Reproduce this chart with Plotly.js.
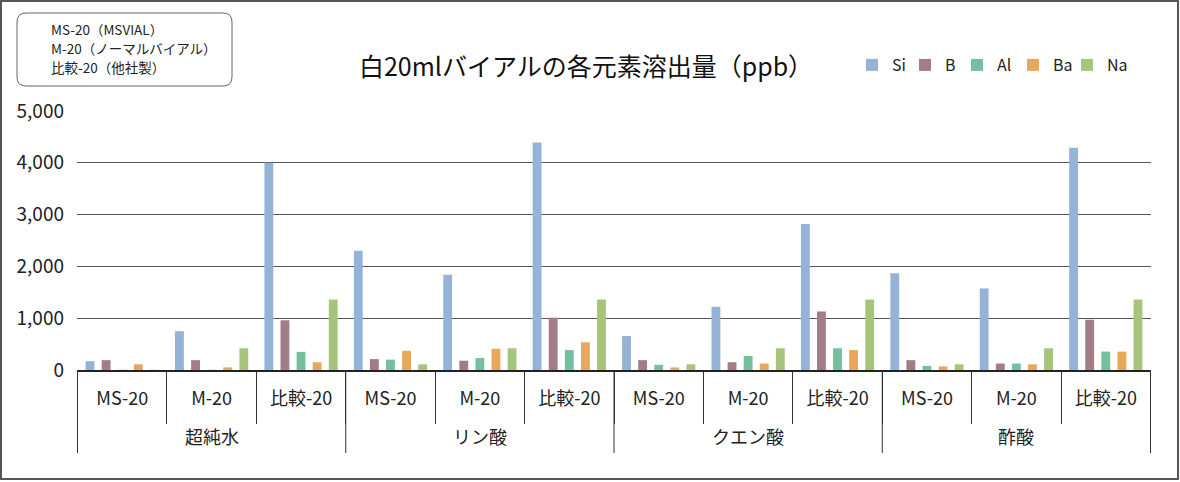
<!DOCTYPE html>
<html>
<head>
<meta charset="utf-8">
<script src="https://cdn.plot.ly/plotly-3.0.1.min.js"></script>
<style>html,body{margin:0;padding:0;background:#fff;}#chart{width:1180px;height:482px;}</style>
</head>
<body>
<div id="chart"></div>
<script>
// ---- data ----
const groups = ['超純水', 'リン酸', 'クエン酸', '酢酸'];
const vials = ['MS-20', 'M-20', '比較-20'];
const elements = ['Si', 'B', 'Al', 'Ba', 'Na'];
const Si = [170, 750, 4000, 2300, 1840, 4390, 655, 1220, 2820, 1870, 1575, 4290];
const B  = [190, 190, 960, 210, 180, 1010, 190, 150, 1130, 190, 125, 970];
const Al = [5, 5, 350, 200, 230, 385, 100, 270, 420, 80, 125, 355];
const Ba = [110, 50, 150, 370, 410, 535, 50, 125, 385, 70, 110, 355];
const Na = [5, 420, 1360, 110, 420, 1360, 110, 420, 1360, 110, 420, 1360];
const yTicks = [0, 1000, 2000, 3000, 4000, 5000];
const noteLines = ['MS-20（MSVIAL）', 'M-20（ノーマルバイアル）', '比較-20（他社製）'];
const titleText = '白20mlバイアルの各元素溶出量（ppb）';

// ---- styles ----
const colors = ['#95b3d7', '#a27c86', '#74bf9d', '#e8a85c', '#a7c47c'];
const legendTextX = [890, 943, 995, 1051, 1105]; // left edge of legend texts (px)
const FONT = '"Noto Sans CJK JP", "Noto Sans", sans-serif';

// geometry helpers (plot area l=77, r=1151, t=111, b=370)
const L = 77, R = 1151, T = 111, Bt = 370, W = R - L, H = Bt - T;
const px = x => (x - L) / W;
const py = y => (Bt - y) / H;

// category keys (unique) with displayed labels
const keys = [], keyLabels = [];
groups.forEach(g => vials.forEach(v => { keys.push(g + ' ' + v); keyLabels.push(v); }));
const series = [Si, B, Al, Ba, Na];

const traces = elements.map((el, i) => ({
  type: 'bar',
  name: el,
  x: keys,
  y: series[i],
  marker: {color: colors[i]},
  legend: i === 0 ? 'legend' : 'legend' + (i + 1),
  hoverinfo: 'y+name'
}));

function roundRect(x0, y0, x1, y1, r) {
  const rx = r / W, ry = r / H;
  const X0 = px(x0), X1 = px(x1), Y0 = py(y0), Y1 = py(y1);
  return `M ${X0 + rx} ${Y0} L ${X1 - rx} ${Y0} Q ${X1} ${Y0} ${X1} ${Y0 - ry} ` +
         `L ${X1} ${Y1 + ry} Q ${X1} ${Y1} ${X1 - rx} ${Y1} L ${X0 + rx} ${Y1} ` +
         `Q ${X0} ${Y1} ${X0} ${Y1 + ry} L ${X0} ${Y0 - ry} Q ${X0} ${Y0} ${X0 + rx} ${Y0} Z`;
}

const layout = {
  width: 1180, height: 482,
  margin: {l: L, r: 1180 - R, t: T, b: 482 - Bt, autoexpand: false},
  paper_bgcolor: '#fff', plot_bgcolor: '#fff',
  font: {family: FONT, color: '#222'},
  title: {
    text: titleText,
    font: {family: FONT, size: 25, color: '#111'},
    x: 586 / 1180, xanchor: 'center', xref: 'container',
    y: 1 - 67 / 482, yanchor: 'middle', yref: 'container'
  },
  barmode: 'group',
  bargap: 0.1,
  bargroupgap: 0.45,
  showlegend: true,
  xaxis: {
    type: 'category',
    tickvals: keys, ticktext: keyLabels,
    showline: true, linecolor: '#222', linewidth: 1.5,
    ticks: 'outside', tickson: 'boundaries', ticklen: 52, tickcolor: '#333', tickwidth: 1,
    ticklabelstandoff: 12,
    tickfont: {family: FONT, size: 18, color: '#222'},
    showgrid: false
  },
  yaxis: {
    range: [0, 5000],
    tickvals: yTicks,
    tickformat: ',d',
    showgrid: true, gridcolor: '#555', gridwidth: 1,
    zeroline: false,
    showline: false,
    ticks: '',
    ticklabelstandoff: 12,
    tickfont: {family: FONT, size: 19, color: '#222'}
  },
  shapes: [
    {type: 'rect', xref: 'paper', yref: 'paper',
     x0: px(1), x1: px(1178), y0: py(479), y1: py(1),
     line: {color: '#555', width: 2}, fillcolor: 'rgba(0,0,0,0)', layer: 'below'},
    {type: 'path', xref: 'paper', yref: 'paper',
     path: roundRect(17, 13, 232, 86, 9),
     line: {color: '#666', width: 1}, fillcolor: 'rgba(0,0,0,0)'}
  ],
  annotations: []
};

// one legend per element so each entry sits where the reference shows it
elements.forEach((el, i) => {
  const name = i === 0 ? 'legend' : 'legend' + (i + 1);
  layout[name] = {
    orientation: 'h',
    x: px(legendTextX[i] - 38), xanchor: 'left',
    y: py(65), yanchor: 'middle',
    font: {family: FONT, size: 16, color: '#222'},
    itemwidth: 30,
    bgcolor: 'rgba(0,0,0,0)'
  };
});

// group dividers between groups of vials (at category boundaries)
for (let g = 0; g <= groups.length; g++) {
  const b = g * vials.length - 0.5;
  layout.shapes.push({type: 'line', xref: 'x', yref: 'paper', x0: b, x1: b,
    y0: py(370), y1: py(453), line: {color: '#333', width: 1}});
}
// group labels under the middle vial of each group
groups.forEach((g, gi) => {
  layout.annotations.push({xref: 'x', yref: 'paper', x: keys[gi * vials.length + 1], y: py(436),
    xanchor: 'center', yanchor: 'middle', showarrow: false, text: g,
    font: {family: FONT, size: 18, color: '#222'}});
});
// note box lines
noteLines.forEach((t, i) => {
  layout.annotations.push({xref: 'paper', yref: 'paper', x: px(49), y: py(29 + i * 19),
    xanchor: 'left', yanchor: 'middle', align: 'left', showarrow: false, text: t,
    font: {family: FONT, size: 13.5, color: '#222'}});
});

Plotly.newPlot('chart', traces, layout, {displayModeBar: false, staticPlot: true});
</script>
</body>
</html>
